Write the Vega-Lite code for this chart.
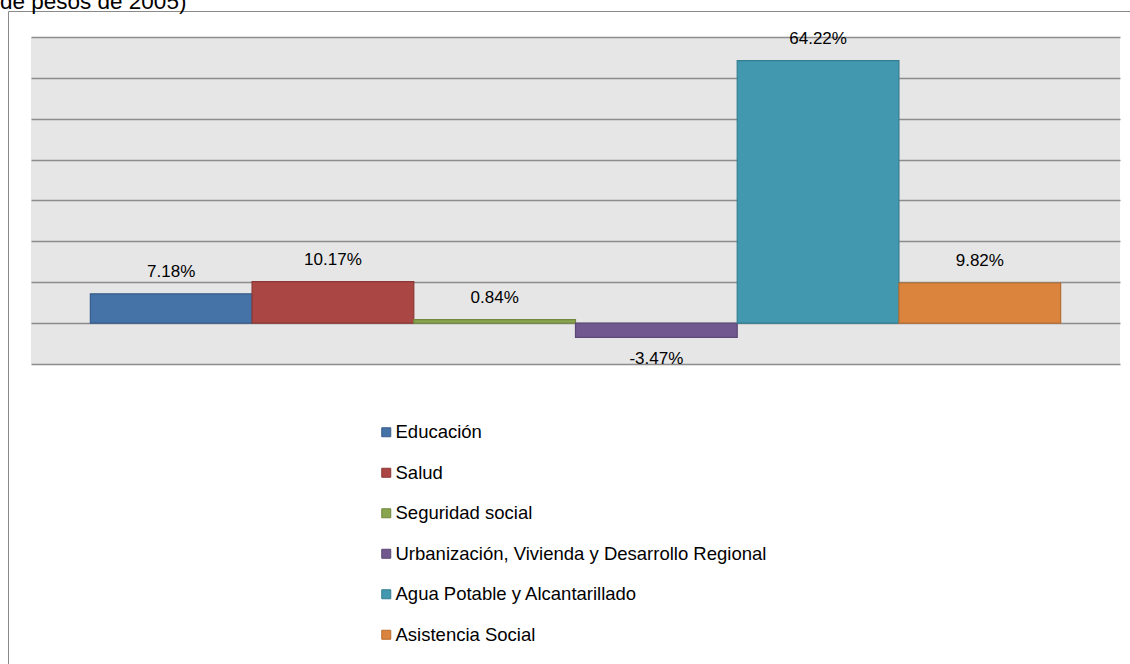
{
  "$schema": "https://vega.github.io/schema/vega-lite/v6.json",
  "autosize": {"type": "none"},
  "width": 1089,
  "height": 327,
  "padding": {"left": 31, "top": 37, "right": 10, "bottom": 300},
  "background": "white",
  "config": {
    "view": {"fill": "#e6e6e6", "stroke": null},
    "locale": {"number": {"decimal": ".", "thousands": ",", "grouping": [3], "currency": ["$", ""], "minus": "-"}}
  },
  "title": {
    "text": "de pesos de 2005)",
    "anchor": "start",
    "frame": "group",
    "font": "Liberation Sans",
    "fontSize": 22.5,
    "fontWeight": "normal",
    "color": "#000000",
    "baseline": "alphabetic",
    "offset": 0,
    "dx": -31,
    "dy": 21
  },
  "data": {
    "values": [
      {"rubro": "Educación", "valor": 0.0718},
      {"rubro": "Salud", "valor": 0.1017},
      {"rubro": "Seguridad social", "valor": 0.0084},
      {"rubro": "Urbanización, Vivienda y Desarrollo Regional", "valor": -0.0347},
      {"rubro": "Agua Potable y Alcantarillado", "valor": 0.6422},
      {"rubro": "Asistencia Social", "valor": 0.0982}
    ]
  },
  "encoding": {
    "x": {
      "field": "rubro",
      "type": "nominal",
      "sort": null,
      "scale": {"paddingInner": 0, "paddingOuter": 0.367},
      "axis": null
    },
    "y": {
      "field": "valor",
      "type": "quantitative",
      "scale": {"domain": [-0.1, 0.7], "nice": false, "zero": false},
      "axis": {
        "values": [-0.1, 0, 0.1, 0.2, 0.3, 0.4, 0.5, 0.6, 0.7],
        "labels": false,
        "ticks": false,
        "domain": false,
        "title": null,
        "grid": true,
        "gridColor": "#8c8c8c",
        "gridWidth": 1.5
      }
    }
  },
  "layer": [
    {
      "mark": {"type": "bar", "strokeWidth": 1.2},
      "encoding": {
        "fill": {
          "field": "rubro",
          "type": "nominal",
          "scale": {
            "domain": ["Educación", "Salud", "Seguridad social", "Urbanización, Vivienda y Desarrollo Regional", "Agua Potable y Alcantarillado", "Asistencia Social"],
            "range": ["#4572A7", "#AA4643", "#89A54E", "#71588F", "#4198AF", "#DB843D"]
          },
          "legend": {
            "title": null,
            "orient": "none",
            "legendX": 346,
            "legendY": 386,
            "direction": "vertical",
            "padding": 0,
            "symbolType": "square",
            "symbolSize": 81,
            "symbolStrokeWidth": 1,
            "labelFont": "Liberation Sans",
            "labelFontSize": 18.5,
            "labelColor": "#000000",
            "labelOffset": 0,
            "labelLimit": 0,
            "rowPadding": 21.5
          }
        },
        "stroke": {
          "field": "rubro",
          "type": "nominal",
          "scale": {
            "domain": ["Educación", "Salud", "Seguridad social", "Urbanización, Vivienda y Desarrollo Regional", "Agua Potable y Alcantarillado", "Asistencia Social"],
            "range": ["#385D8A", "#8C3836", "#71893F", "#5C4776", "#357D91", "#B66D31"]
          },
          "legend": {
            "title": null,
            "orient": "none",
            "legendX": 346,
            "legendY": 386,
            "direction": "vertical",
            "padding": 0,
            "symbolType": "square",
            "symbolSize": 81,
            "symbolStrokeWidth": 1,
            "labelFont": "Liberation Sans",
            "labelFontSize": 18.5,
            "labelColor": "#000000",
            "labelOffset": 0,
            "labelLimit": 0,
            "rowPadding": 21.5
          }
        }
      }
    },
    {
      "transform": [{"filter": "datum.valor >= 0"}],
      "mark": {"type": "text", "font": "Liberation Sans", "fontSize": 17, "color": "#000000", "baseline": "middle", "dy": -22},
      "encoding": {"text": {"field": "valor", "type": "quantitative", "format": ".2%"}}
    },
    {
      "transform": [{"filter": "datum.valor < 0"}],
      "mark": {"type": "text", "font": "Liberation Sans", "fontSize": 17, "color": "#000000", "baseline": "middle", "dy": 22},
      "encoding": {
        "text": {"field": "valor", "type": "quantitative", "format": ".2%"},
        "opacity": {
          "datum": "marco",
          "type": "nominal",
          "scale": {"range": [1]},
          "legend": {
            "title": null,
            "orient": "none",
            "legendX": -23,
            "legendY": -26,
            "padding": 900,
            "strokeColor": "#8a8a8a",
            "symbolOpacity": 0,
            "labelExpr": "''"
          }
        }
      }
    }
  ]
}
